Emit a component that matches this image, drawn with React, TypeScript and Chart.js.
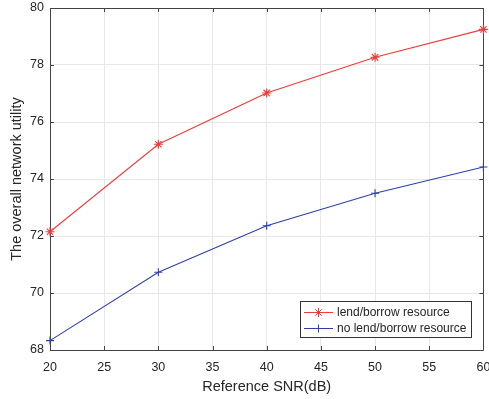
import React, { useEffect, useRef } from 'react';
import { Chart, registerables } from 'chart.js';
Chart.register(...registerables);

const snr = [20, 30, 40, 50, 60];
const lendBorrow = [72.15, 75.22, 77.02, 78.27, 79.25];
const noLendBorrow = [68.33, 70.73, 72.36, 73.5, 74.42];
const xTickValues = [20, 25, 30, 35, 40, 45, 50, 55, 60];
const yTickValues = [68, 70, 72, 74, 76, 78, 80];
const seriesLabels = ['lend/borrow resource', 'no lend/borrow resource'];
const xTitle = 'Reference SNR(dB)';
const yTitle = 'The overall network utility';

const RED = '#f03a3a';
const BLUE = '#2c3fb0';
const AXIS = '#444444';
const TEXT = '#262626';
const FONT = "'Liberation Sans', Arial, sans-serif";

function drawMarker(ctx: CanvasRenderingContext2D, style: string, x: number, y: number, r: number) {
  const angles = style === 'star' ? [0, 45, 90, 135] : [0, 90];
  ctx.beginPath();
  for (const a of angles) {
    const rad = (a * Math.PI) / 180;
    const dx = Math.cos(rad) * r;
    const dy = Math.sin(rad) * r;
    ctx.moveTo(x - dx, y - dy);
    ctx.lineTo(x + dx, y + dy);
  }
  ctx.stroke();
}

const boxPlugin = {
  id: 'matlabBox',
  beforeDatasetsDraw(chart: any) {
    const { ctx, chartArea } = chart;
    const { left, right, top, bottom } = chartArea;
    const xs = chart.scales.x;
    const ys = chart.scales.y;
    ctx.save();
    ctx.strokeStyle = AXIS;
    ctx.lineWidth = 1;
    ctx.beginPath();
    ctx.rect(Math.round(left) + 0.5, Math.round(top) + 0.5, Math.round(right - left), Math.round(bottom - top));
    ctx.stroke();
    const tl = 4;
    ctx.beginPath();
    for (const v of xTickValues) {
      const px = Math.round(xs.getPixelForValue(v)) + 0.5;
      ctx.moveTo(px, bottom);
      ctx.lineTo(px, bottom - tl);
      ctx.moveTo(px, top);
      ctx.lineTo(px, top + tl);
    }
    for (const v of yTickValues) {
      const py = Math.round(ys.getPixelForValue(v)) + 0.5;
      ctx.moveTo(left, py);
      ctx.lineTo(left + tl, py);
      ctx.moveTo(right, py);
      ctx.lineTo(right - tl, py);
    }
    ctx.stroke();
    ctx.restore();
  },
};

const legendPlugin = {
  id: 'matlabLegend',
  afterDraw(chart: any) {
    const { ctx } = chart;
    const x0 = 300, y0 = 301, w = 171, h = 36;
    ctx.save();
    ctx.fillStyle = '#ffffff';
    ctx.fillRect(x0, y0, w, h);
    ctx.strokeStyle = '#333333';
    ctx.lineWidth = 1;
    ctx.strokeRect(x0 + 0.5, y0 + 0.5, w, h);
    const rows = [y0 + 11.5, y0 + 27.5];
    chart.data.datasets.forEach((ds: any, i: number) => {
      const y = rows[i];
      ctx.strokeStyle = ds.borderColor;
      ctx.lineWidth = 1;
      ctx.beginPath();
      ctx.moveTo(x0 + 4, y);
      ctx.lineTo(x0 + 33, y);
      ctx.stroke();
      drawMarker(ctx, ds.pointStyle, x0 + 18.5, y, ds.pointRadius);
      ctx.fillStyle = TEXT;
      ctx.font = `12px ${FONT}`;
      ctx.textBaseline = 'middle';
      ctx.textAlign = 'left';
      ctx.fillText(ds.label, x0 + 37, y);
    });
    ctx.restore();
  },
};

export default function App() {
  const ref = useRef<HTMLCanvasElement>(null);
  useEffect(() => {
    if (!ref.current) return;
    const chart = new Chart(ref.current, {
      type: 'line',
      data: {
        datasets: [
          {
            label: seriesLabels[0],
            data: snr.map((x, i) => ({ x, y: lendBorrow[i] })),
            borderColor: RED,
            backgroundColor: RED,
            borderWidth: 1.1,
            pointStyle: 'star',
            pointRadius: 4.5,
            pointBorderWidth: 1.1,
            pointBorderColor: RED,
            tension: 0,
          },
          {
            label: seriesLabels[1],
            data: snr.map((x, i) => ({ x, y: noLendBorrow[i] })),
            borderColor: BLUE,
            backgroundColor: BLUE,
            borderWidth: 1.1,
            pointStyle: 'cross',
            pointRadius: 4,
            pointBorderWidth: 1.1,
            pointBorderColor: BLUE,
            tension: 0,
          },
        ],
      },
      options: {
        responsive: false,
        animation: false,
        clip: false,
        layout: { padding: { left: 0, top: 8, right: 5, bottom: 0 } },
        plugins: { legend: { display: false }, tooltip: { enabled: false } },
        scales: {
          x: {
            type: 'linear',
            min: 20,
            max: 60,
            afterBuildTicks: (s: any) => { s.ticks = xTickValues.map((v) => ({ value: v })); },
            afterFit: (s: any) => { s.height = 49; s.paddingLeft = 0; s.paddingRight = 0; },
            grid: { color: '#e8e8e8', drawTicks: false },
            border: { display: false },
            ticks: { color: TEXT, font: { size: 12.5, family: FONT }, padding: 10, maxRotation: 0, autoSkip: false },
            title: { display: true, text: xTitle, color: TEXT, font: { size: 14.5, family: FONT }, padding: { top: 0, bottom: 3 } },
          },
          y: {
            type: 'linear',
            min: 68,
            max: 80,
            afterBuildTicks: (s: any) => { s.ticks = yTickValues.map((v) => ({ value: v })); },
            afterFit: (s: any) => { s.width = 50; s.paddingTop = 0; s.paddingBottom = 0; },
            grid: { color: '#e8e8e8', drawTicks: false },
            border: { display: false },
            ticks: { color: TEXT, font: { size: 12.5, family: FONT }, padding: 6, autoSkip: false },
            title: { display: true, text: yTitle, color: TEXT, font: { size: 14.5, family: FONT }, padding: { top: 8, bottom: 0 } },
          },
        },
      },
      plugins: [boxPlugin, legendPlugin],
    });
    return () => chart.destroy();
  }, []);
  return (
    <div style={{ position: 'absolute', left: 0, top: 0, width: 489, height: 399, background: '#fff' }}>
      <canvas ref={ref} width={489} height={399} style={{ display: 'block' }} />
    </div>
  );
}
